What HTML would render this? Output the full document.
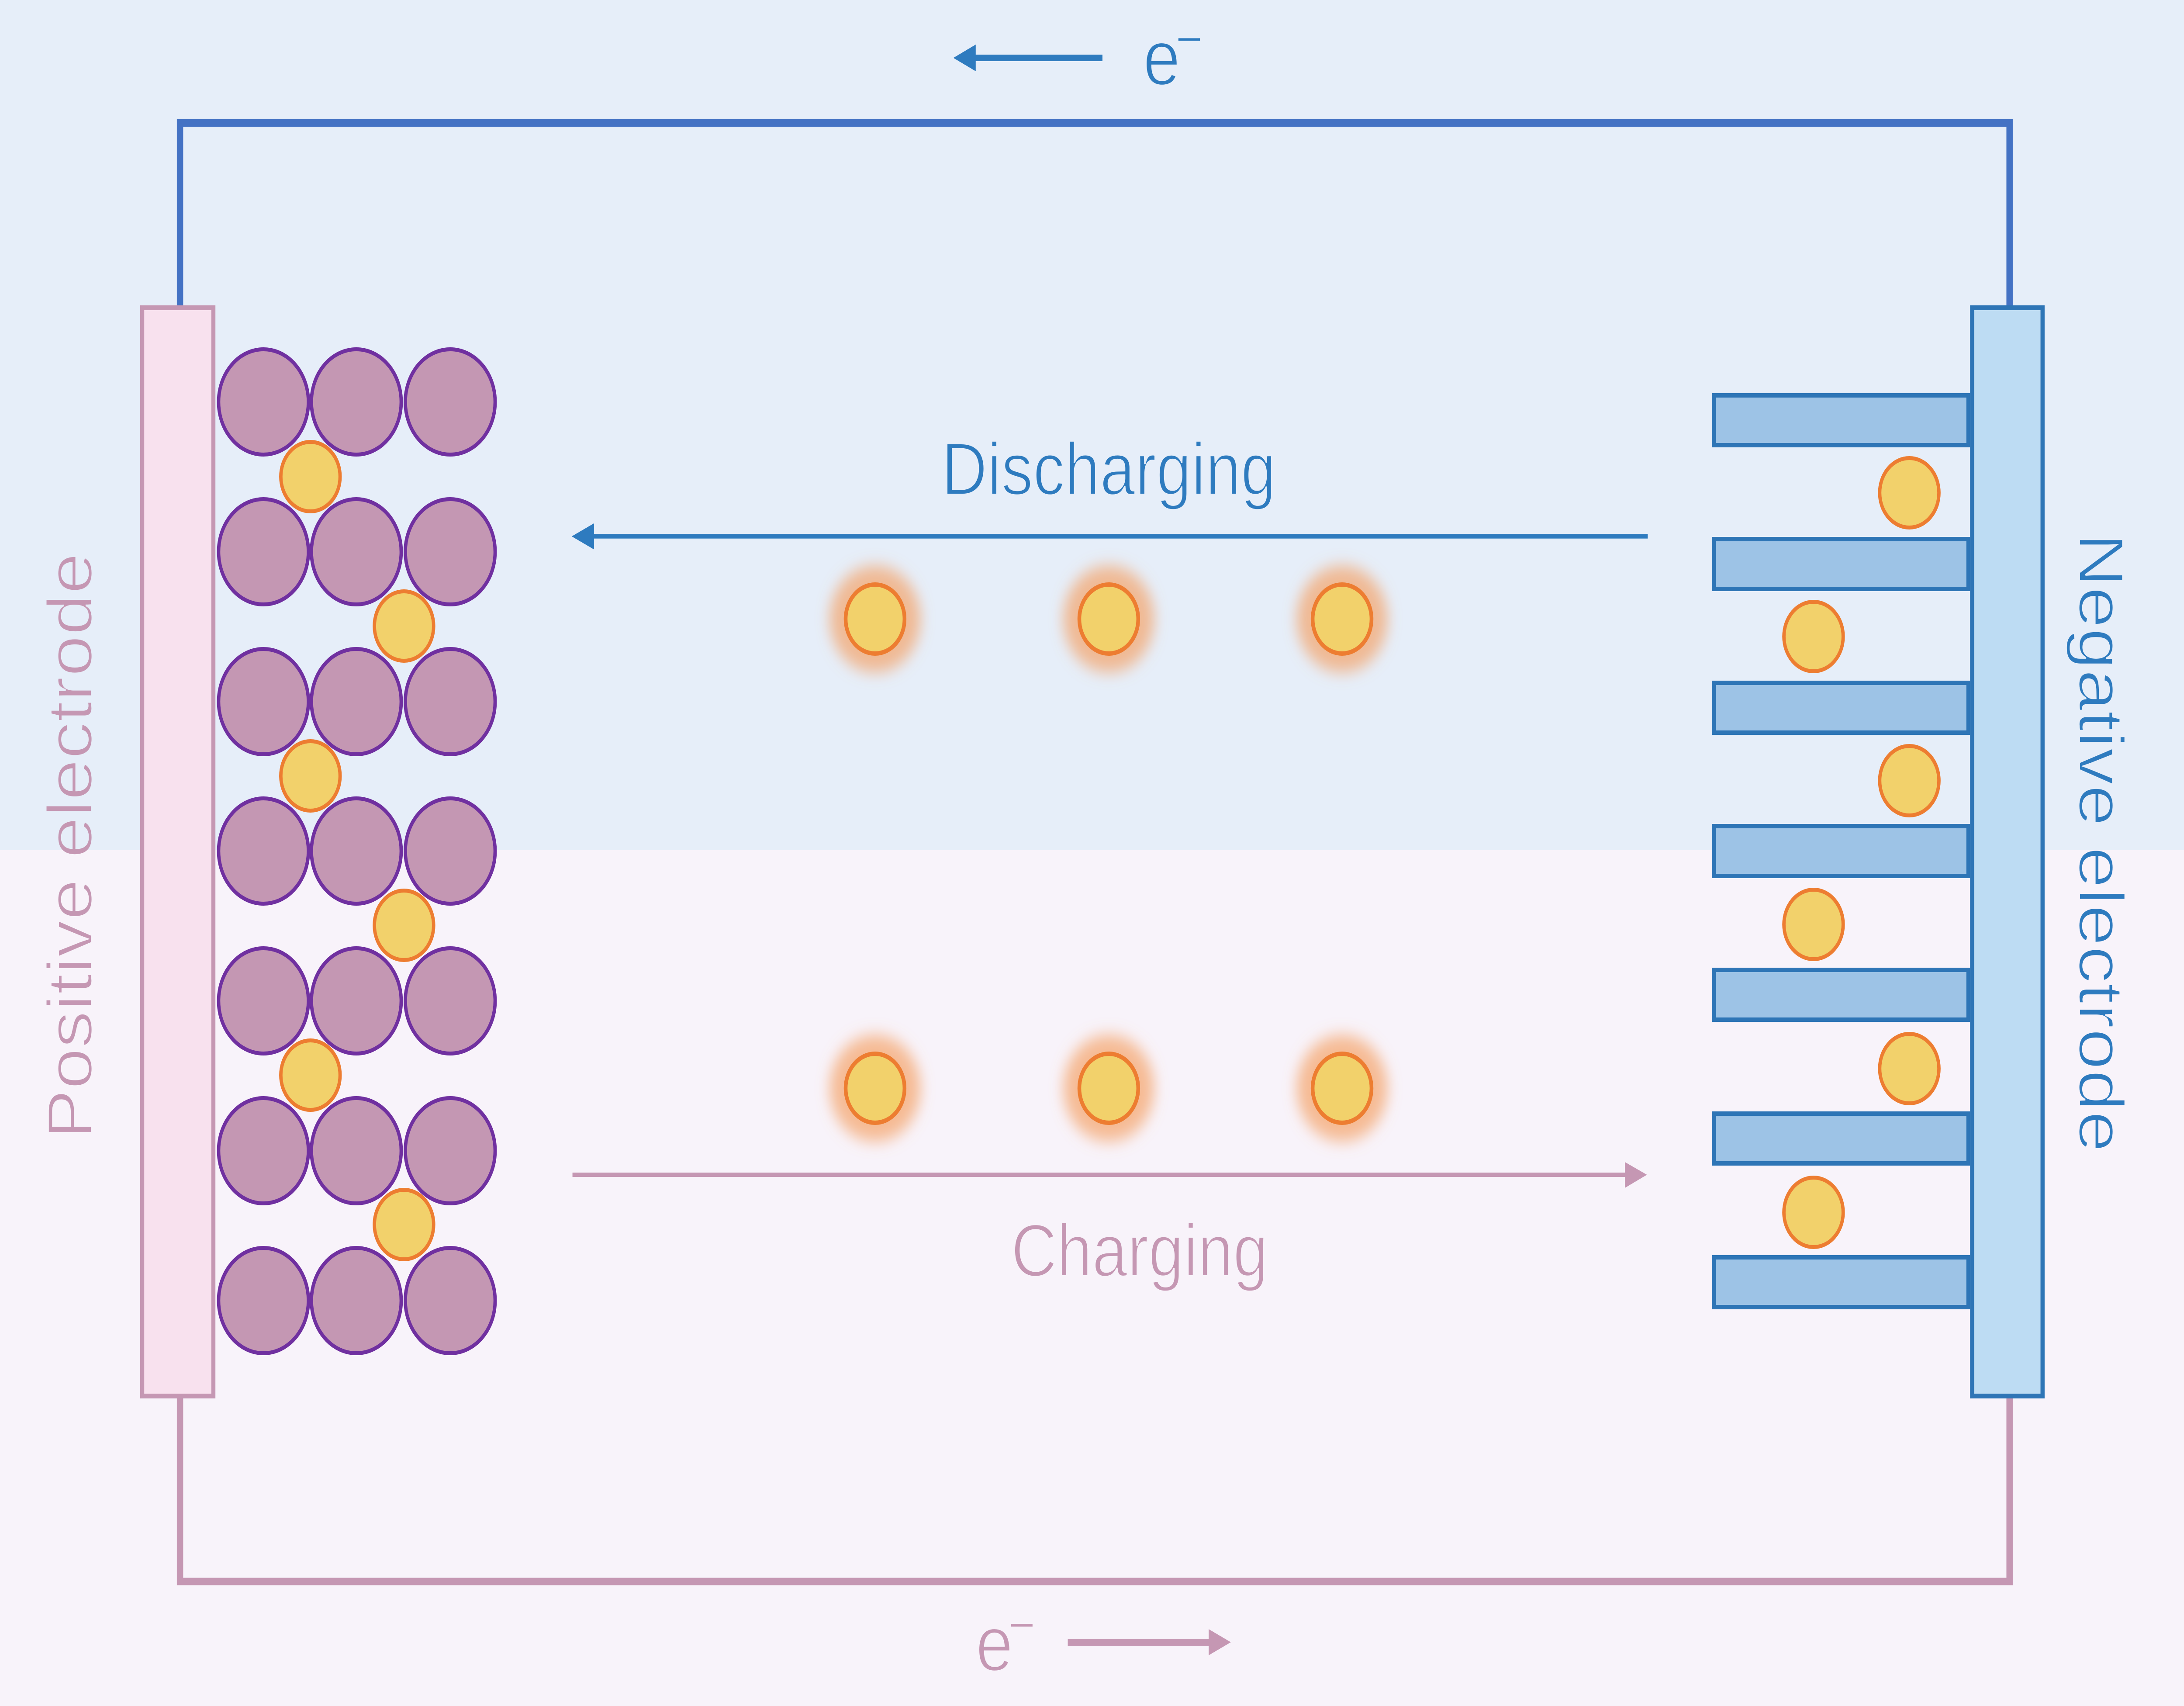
<!DOCTYPE html>
<html>
<head>
<meta charset="utf-8">
<style>
html,body{margin:0;padding:0;width:100%;height:100%;overflow:hidden;background:#F8F3FA}
svg{position:absolute;left:0;top:0;width:100vw;height:100vh;display:block}
text{font-family:"Liberation Sans","DejaVu Sans",sans-serif}
</style>
</head>
<body>
<svg viewBox="0 0 5860 3905" preserveAspectRatio="none" xmlns="http://www.w3.org/2000/svg">
<defs>
<filter id="glow" x="-60%" y="-60%" width="220%" height="220%">
<feGaussianBlur stdDeviation="18"/>
</filter>
<linearGradient id="posStroke" gradientUnits="userSpaceOnUse" x1="-1000" y1="0" x2="1000" y2="0">
<stop offset="0" stop-color="#F8F3FA"/>
<stop offset="0.495" stop-color="#F8F3FA"/>
<stop offset="0.495" stop-color="#E6EEF9"/>
<stop offset="1" stop-color="#E6EEF9"/>
</linearGradient>
<linearGradient id="negStroke" gradientUnits="userSpaceOnUse" x1="-1000" y1="0" x2="1000" y2="0">
<stop offset="0" stop-color="#E6EEF9"/>
<stop offset="0.5085" stop-color="#E6EEF9"/>
<stop offset="0.5085" stop-color="#F8F3FA"/>
<stop offset="1" stop-color="#F8F3FA"/>
</linearGradient>
</defs>

<!-- backgrounds -->
<rect x="0" y="0" width="5860" height="1946" fill="#E6EEF9"/>
<rect x="0" y="1946" width="5860" height="1959" fill="#F8F3FA"/>

<!-- wires -->
<path d="M483,705 V281.5 H5392 V705" fill="none" stroke="#4472C4" stroke-width="17" stroke-linejoin="miter"/>
<path d="M483,3195 V3620 H5392 V3195" fill="none" stroke="#C597B3" stroke-width="17" stroke-linejoin="miter"/>

<!-- positive electrode -->
<rect x="381.5" y="704.5" width="191" height="2491" fill="#F8E1EE" stroke="#C597B3" stroke-width="11"/>

<!-- purple lattice -->
<g fill="#C497B3" stroke="#7030A0" stroke-width="9">
<circle cx="707" cy="920" r="120.5"/><circle cx="956" cy="920" r="120.5"/><circle cx="1208" cy="920" r="120.5"/>
<circle cx="707" cy="1263" r="120.5"/><circle cx="956" cy="1263" r="120.5"/><circle cx="1208" cy="1263" r="120.5"/>
<circle cx="707" cy="1606" r="120.5"/><circle cx="956" cy="1606" r="120.5"/><circle cx="1208" cy="1606" r="120.5"/>
<circle cx="707" cy="1948" r="120.5"/><circle cx="956" cy="1948" r="120.5"/><circle cx="1208" cy="1948" r="120.5"/>
<circle cx="707" cy="2291" r="120.5"/><circle cx="956" cy="2291" r="120.5"/><circle cx="1208" cy="2291" r="120.5"/>
<circle cx="707" cy="2634" r="120.5"/><circle cx="956" cy="2634" r="120.5"/><circle cx="1208" cy="2634" r="120.5"/>
<circle cx="707" cy="2977" r="120.5"/><circle cx="956" cy="2977" r="120.5"/><circle cx="1208" cy="2977" r="120.5"/>
</g>

<!-- left Li ions -->
<g fill="#F2D16B" stroke="#ED7D31" stroke-width="9">
<circle cx="833" cy="1091" r="79.5"/>
<circle cx="1084" cy="1433" r="79.5"/>
<circle cx="833" cy="1776" r="79.5"/>
<circle cx="1084" cy="2118" r="79.5"/>
<circle cx="833" cy="2461" r="79.5"/>
<circle cx="1084" cy="2803" r="79.5"/>
</g>

<!-- negative electrode fingers -->
<g fill="#9DC3E6" stroke="#2E75B6" stroke-width="10">
<rect x="4599" y="905" width="682" height="114"/>
<rect x="4599" y="1234" width="682" height="114"/>
<rect x="4599" y="1563" width="682" height="114"/>
<rect x="4599" y="1891" width="682" height="114"/>
<rect x="4599" y="2220" width="682" height="114"/>
<rect x="4599" y="2549" width="682" height="114"/>
<rect x="4599" y="2878" width="682" height="114"/>
</g>

<!-- negative electrode -->
<rect x="5291.5" y="704.5" width="189" height="2491" fill="#BDDCF3" stroke="#2E75B6" stroke-width="11"/>

<!-- right Li ions -->
<g fill="#F2D16B" stroke="#ED7D31" stroke-width="9">
<circle cx="5123" cy="1128" r="79.5"/>
<circle cx="4866" cy="1457" r="79.5"/>
<circle cx="5123" cy="1787" r="79.5"/>
<circle cx="4866" cy="2116" r="79.5"/>
<circle cx="5123" cy="2446" r="79.5"/>
<circle cx="4866" cy="2775" r="79.5"/>
</g>

<!-- glowing ions in electrolyte -->
<g fill="#F5A064" fill-opacity="0.68" filter="url(#glow)">
<circle cx="2348" cy="1417" r="122"/>
<circle cx="2975" cy="1417" r="122"/>
<circle cx="3601" cy="1417" r="122"/>
<circle cx="2348" cy="2491" r="122"/>
<circle cx="2975" cy="2491" r="122"/>
<circle cx="3601" cy="2491" r="122"/>
</g>
<g fill="#F2D16B" stroke="#ED7D31" stroke-width="10">
<circle cx="2348" cy="1417" r="79"/>
<circle cx="2975" cy="1417" r="79"/>
<circle cx="3601" cy="1417" r="79"/>
<circle cx="2348" cy="2491" r="79"/>
<circle cx="2975" cy="2491" r="79"/>
<circle cx="3601" cy="2491" r="79"/>
</g>

<!-- discharging arrow -->
<rect x="1590" y="1222.7" width="2831" height="10" fill="#2E7BBF"/>
<polygon points="1534,1227.7 1594,1197.7 1594,1257.7" fill="#2E7BBF"/>
<text x="2975" y="1132" font-size="170" fill="#2E7BBF" stroke="#E6EEF9" stroke-width="4" text-anchor="middle">Discharging</text>

<!-- charging arrow -->
<rect x="1536" y="2684" width="2828" height="10" fill="#C597B3"/>
<polygon points="4419,2689 4360,2660 4360,2719" fill="#C597B3"/>
<text x="3058" y="2921" font-size="170" fill="#C597B3" stroke="#F8F3FA" stroke-width="4" text-anchor="middle">Charging</text>

<!-- top electron arrow -->
<rect x="2614" y="125" width="344" height="15" fill="#2E7BBF"/>
<polygon points="2558,132.5 2618,102 2618,163" fill="#2E7BBF"/>
<text x="3067" y="194" font-size="180" fill="#2E7BBF" stroke="#E6EEF9" stroke-width="4">e</text>
<text x="3154" y="132" font-size="125" fill="#2E7BBF" stroke="#E6EEF9" stroke-width="3">−</text>

<!-- bottom electron arrow -->
<rect x="2865" y="3751" width="382" height="16" fill="#C597B3"/>
<polygon points="3302.5,3759 3243,3729 3243,3789" fill="#C597B3"/>
<text x="2618" y="3824" font-size="180" fill="#C597B3" stroke="#F8F3FA" stroke-width="4">e</text>
<text x="2705" y="3762" font-size="125" fill="#C597B3" stroke="#F8F3FA" stroke-width="3">−</text>

<!-- electrode labels -->
<text transform="translate(246,1936) rotate(-90)" x="0" y="0" font-size="170" fill="#C597B3" stroke="url(#posStroke)" stroke-width="4" text-anchor="middle">Positive electrode</text>
<text transform="translate(5579,1929) rotate(90)" x="0" y="0" font-size="170" fill="#2E7BBF" stroke="url(#negStroke)" stroke-width="4" text-anchor="middle">Negative electrode</text>
</svg>
</body>
</html>
